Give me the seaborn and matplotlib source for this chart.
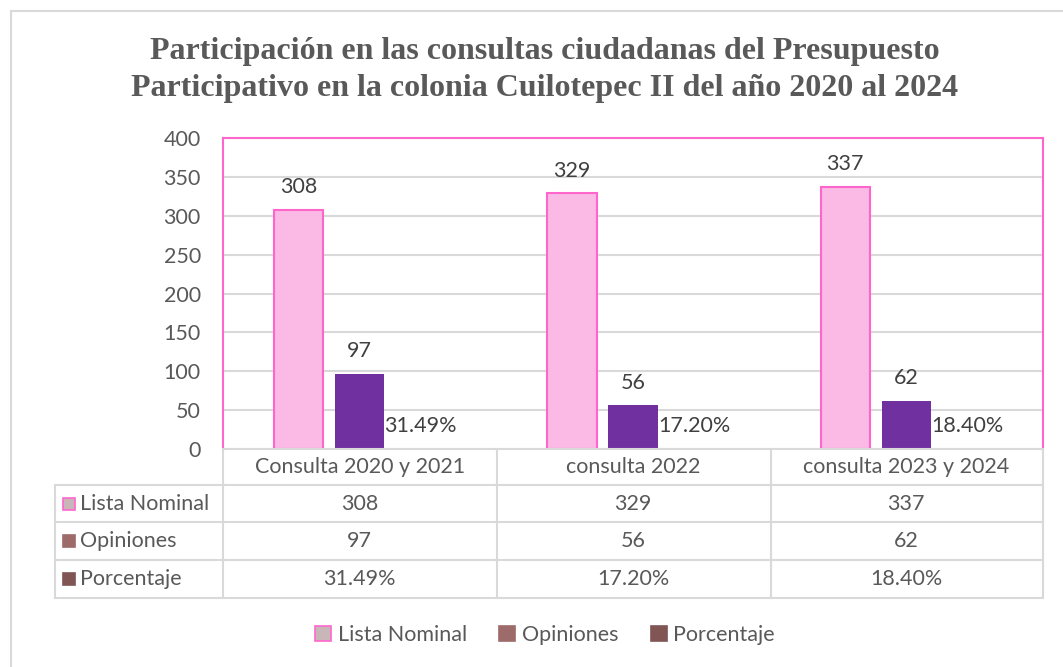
import numpy as np
import pandas as pd
import seaborn as sns
import matplotlib.pyplot as plt
from matplotlib.patches import Patch, Rectangle
from matplotlib.lines import Line2D
from matplotlib import transforms

# data
categories = ['Consulta 2020 y 2021', 'consulta 2022', 'consulta 2023 y 2024']
series = ['Lista Nominal', 'Opiniones', 'Porcentaje']
lista_nominal = [308, 329, 337]
opiniones = [97, 56, 62]
porcentaje = [0.3149, 0.1720, 0.1840]
pct_labels = ['31.49%', '17.20%', '18.40%']
y_ticks = [0, 50, 100, 150, 200, 250, 300, 350, 400]

bar_colors = ['#FBB9E6', '#7030A0', '#7F4F4F']
legend_colors = ['#C9B6B8', '#9E6B6B', '#825555']
text_col = '#595959'
grid_col = '#D9D9D9'
pink = '#FF66CC'
fs = 15.5

df = pd.DataFrame({
    'cat': categories * 3,
    'serie': [s for s in series for _ in categories],
    'valor': lista_nominal + opiniones + porcentaje,
})

W, H = 1063, 667
def px(x, y):
    return x / W, 1 - y / H

sns.set_theme(style='white')
plt.rcParams['font.family'] = ['Lato', 'DejaVu Sans']

fig = plt.figure(figsize=(W / 100, H / 100), dpi=100)
l, t = px(223, 138)
r, b = px(1043, 449)
ax = fig.add_axes([l, b, r - l, t - b])

sns.barplot(data=df, x='cat', y='valor', hue='serie', order=categories,
            hue_order=series, palette=bar_colors, width=0.67, gap=0.19,
            saturation=1, legend=False, ax=ax)

for p in ax.containers[0]:
    p.set_edgecolor(pink)
    p.set_linewidth(1.5)
for p in ax.containers[1]:
    p.set_linewidth(0)

ax.bar_label(ax.containers[0], labels=[str(v) for v in lista_nominal],
             padding=9, fontsize=fs, color='#404040')
ax.bar_label(ax.containers[1], labels=[str(v) for v in opiniones],
             padding=9, fontsize=fs, color='#404040')
ax.bar_label(ax.containers[2], labels=pct_labels,
             padding=9, fontsize=fs, color='#404040')

ax.set_xlim(-0.5, 2.5)
ax.set_ylim(0, 400)
ax.set_yticks(y_ticks)
ax.set_yticklabels([str(v) for v in y_ticks], fontsize=fs, color=text_col)
ax.tick_params(axis='y', length=0, pad=16)
ax.set_xticks([])
ax.set_xlabel('')
ax.set_ylabel('')
ax.yaxis.grid(True, color=grid_col, linewidth=1.5)
ax.set_axisbelow(True)
for s in ['left', 'right', 'top']:
    ax.spines[s].set_color(pink)
    ax.spines[s].set_linewidth(1.5)
ax.spines['bottom'].set_visible(False)

# title
fig.text(*px(545, 70), 'Participación en las consultas ciudadanas del Presupuesto\n'
         'Participativo en la colonia Cuilotepec II del año 2020 al 2024',
         ha='center', va='center', fontsize=23, fontweight='bold',
         family='Liberation Serif', color=text_col, linespacing=1.4)

# outer chart border
fig.patches.append(Rectangle(px(11, 700), 1.2, (700 - 11) / H, transform=fig.transFigure,
                             fill=False, edgecolor=grid_col, linewidth=1.5))

# data table
blend = transforms.blended_transform_factory(ax.transData, fig.transFigure)
row_y = [449, 485, 522, 560, 598]
def hline(x0, x1, y):
    fig.add_artist(Line2D([x0 / W, x1 / W], [1 - y / H] * 2, color=grid_col, lw=1.5))
def vline(x, y0, y1):
    fig.add_artist(Line2D([x / W] * 2, [1 - y0 / H, 1 - y1 / H], color=grid_col, lw=1.5))

hline(223, 1043, 449)
for y in row_y[1:]:
    hline(55, 1043, y)
vline(55, 485, 598)
for x in [223, 497, 771, 1043]:
    vline(x, 449, 598)

rows = [lista_nominal, opiniones, pct_labels]
for i, c in enumerate(categories):
    fig.text(i, 1 - (row_y[0] + row_y[1]) / 2 / H, c, transform=blend,
             ha='center', va='center', fontsize=fs, color=text_col)
    for j, vals in enumerate(rows):
        yc = (row_y[j + 1] + row_y[j + 2]) / 2
        fig.text(i, 1 - yc / H, str(vals[i]), transform=blend,
                 ha='center', va='center', fontsize=fs, color=text_col)

for j, s in enumerate(series):
    yc = (row_y[j + 1] + row_y[j + 2]) / 2
    ec = pink if j == 0 else legend_colors[j]
    fig.patches.append(Rectangle(px(63, yc + 6), 12 / W, 12 / H, transform=fig.transFigure,
                                 facecolor=legend_colors[j], edgecolor=ec, linewidth=1.2))
    fig.text(*px(80, yc), s, ha='left', va='center', fontsize=fs, color=text_col)

# legend
handles = [Patch(facecolor=legend_colors[j], edgecolor=pink if j == 0 else legend_colors[j],
                 linewidth=1.2, label=s) for j, s in enumerate(series)]
leg = fig.legend(handles=handles, loc='center', bbox_to_anchor=px(545, 635), ncol=3,
                 frameon=False, fontsize=fs, handlelength=0.75, handleheight=0.75,
                 handletextpad=0.3, columnspacing=1.5)
for tx in leg.get_texts():
    tx.set_color(text_col)

fig.savefig('out.png', dpi=100)
